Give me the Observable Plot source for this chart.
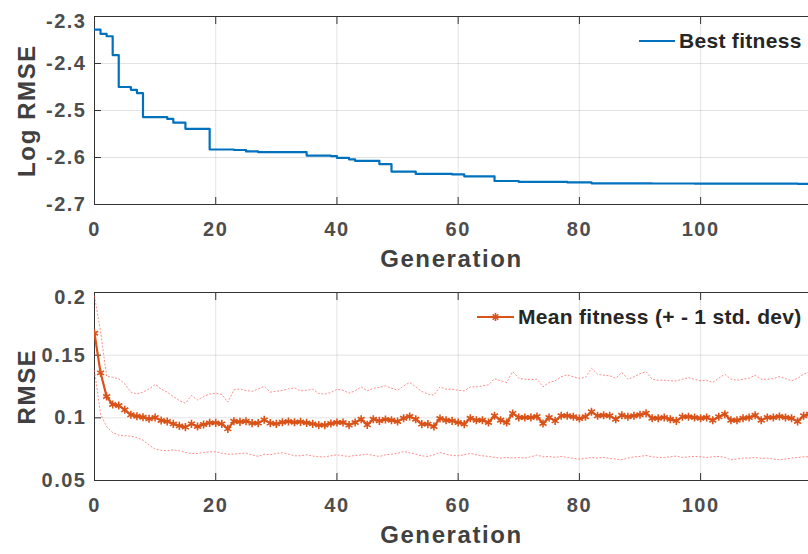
<!DOCTYPE html>
<html><head><meta charset="utf-8">
<script src="https://cdn.jsdelivr.net/npm/d3@7"></script>
<script src="https://cdn.jsdelivr.net/npm/@observablehq/plot@0.6"></script>
<style>
body{margin:0;background:#fff;}
#wrap{position:relative;width:808px;height:554px;overflow:hidden;font-family:"Liberation Sans",Arial,sans-serif;font-weight:bold;}
#wrap svg{display:block;}
g[aria-label="x-axis tick label"] text, g[aria-label="y-axis tick label"] text{letter-spacing:1.5px;}
g[aria-label="x-axis label"], g[aria-label="y-axis label"]{font-size:24px;letter-spacing:1.6px;fill:#404040;}
.legend{position:absolute;display:flex;align-items:center;font-size:21px;letter-spacing:0.3px;color:#262626;white-space:nowrap;}
.legend svg{margin-right:4px;}
</style>
</head><body>
<div id="wrap">
  <div id="top"></div>
  <div id="bot"></div>
  <div class="legend" id="leg1" style="left:639px;top:29px;"><svg width="36" height="10"><line x1="0" x2="36" y1="5" y2="5" stroke="#0072BD" stroke-width="2"/></svg><span>Best fitness</span></div>
  <div class="legend" id="leg2" style="left:477px;top:305px;"><svg width="37" height="12"><line x1="0" x2="37" y1="6" y2="6" stroke="#D95319" stroke-width="2"/><g stroke="#D95319" stroke-width="1.6" transform="translate(18.5,6)"><line x1="-4" x2="4" y1="0" y2="0"/><line x1="0" x2="0" y1="-4" y2="4"/><line x1="-2.8" x2="2.8" y1="-2.8" y2="2.8"/><line x1="-2.8" x2="2.8" y1="2.8" y2="-2.8"/></g></svg><span>Mean fitness (+ - 1 std. dev)</span></div>
</div>
<script>
// ---- data ----
const xTicks = [0, 20, 40, 60, 80, 100];
const topYTicks = [-2.7, -2.6, -2.5, -2.4, -2.3];
const botYTicks = [0.05, 0.1, 0.15, 0.2];

// Best fitness: generation at which value changes, and value (step-after)
const bestGen = [0,1,2,3,4,6,7,8,12,13,15,19,23,25,27,35,39,40,42,43,47,49,53,59,61,66,70,78,82,92,99,116,120];
const bestVal = [-2.328,-2.337,-2.342,-2.382,-2.450,-2.456,-2.463,-2.514,-2.518,-2.526,-2.539,-2.583,-2.584,-2.587,-2.5887,-2.596,-2.597,-2.601,-2.604,-2.607,-2.614,-2.630,-2.635,-2.636,-2.640,-2.650,-2.652,-2.653,-2.655,-2.6553,-2.6556,-2.656,-2.656];

const meanFit = [
0.1675,0.1359,0.1170,0.1106,0.1098,0.1064,0.1024,0.1013,0.1005,0.0992,
0.1003,0.0979,0.0971,0.0952,0.0936,0.0926,0.0952,0.0931,0.0947,0.0960,
0.0960,0.0952,0.0912,0.0973,0.0968,0.0973,0.0958,0.0958,0.0984,0.0958,
0.0952,0.0965,0.0971,0.0965,0.0968,0.0960,0.0952,0.0942,0.0942,0.0955,
0.0963,0.0963,0.0942,0.0963,0.0989,0.0944,0.0989,0.0976,0.0987,0.0981,
0.0971,0.0997,0.1011,0.0989,0.0950,0.0950,0.0931,0.0995,0.0981,0.0976,
0.0963,0.0950,0.0997,0.0981,0.0981,0.0963,0.1016,0.0981,0.0963,0.1035,
0.1003,0.1003,0.1003,0.1011,0.0955,0.1003,0.0976,0.1016,0.1016,0.1008,
0.0995,0.1008,0.1048,0.1016,0.1021,0.1016,0.0989,0.1021,0.1008,0.1016,
0.1024,0.1037,0.0997,0.0997,0.1003,0.0989,0.0976,0.1008,0.1008,0.1003,
0.0997,0.1003,0.0981,0.1008,0.1029,0.0981,0.0981,0.0997,0.1003,0.1021,
0.0981,0.1003,0.1003,0.1011,0.1003,0.0997,0.0971,0.1016,0.1029];

const upperFit = [
0.1970,0.1690,0.1330,0.1324,0.1311,0.1270,0.1205,0.1190,0.1205,0.1230,
0.1266,0.1230,0.1205,0.1170,0.1138,0.1117,0.1178,0.1143,0.1170,0.1190,
0.1197,0.1186,0.1125,0.1223,0.1230,0.1218,0.1212,0.1230,0.1250,0.1205,
0.1212,0.1218,0.1231,0.1239,0.1215,0.1220,0.1228,0.1194,0.1189,0.1202,
0.1228,0.1220,0.1197,0.1215,0.1247,0.1215,0.1236,0.1242,0.1255,0.1236,
0.1220,0.1255,0.1282,0.1247,0.1210,0.1189,0.1181,0.1247,0.1228,0.1228,
0.1220,0.1215,0.1247,0.1247,0.1255,0.1263,0.1313,0.1295,0.1282,0.1369,
0.1316,0.1308,0.1305,0.1308,0.1247,0.1282,0.1295,0.1327,0.1343,0.1327,
0.1316,0.1321,0.1396,0.1348,0.1340,0.1335,0.1316,0.1361,0.1308,0.1327,
0.1353,0.1369,0.1308,0.1300,0.1300,0.1295,0.1295,0.1308,0.1321,0.1308,
0.1295,0.1300,0.1282,0.1316,0.1348,0.1308,0.1300,0.1308,0.1316,0.1340,
0.1308,0.1308,0.1313,0.1329,0.1313,0.1295,0.1316,0.1348,0.1369];

const lowerFit = [
0.1377,0.1030,0.0930,0.0883,0.0862,0.0857,0.0854,0.0843,0.0822,0.0782,
0.0750,0.0742,0.0737,0.0745,0.0737,0.0724,0.0716,0.0716,0.0724,0.0729,
0.0729,0.0718,0.0710,0.0710,0.0716,0.0718,0.0705,0.0692,0.0710,0.0705,
0.0716,0.0721,0.0710,0.0697,0.0697,0.0705,0.0695,0.0689,0.0689,0.0697,
0.0705,0.0697,0.0692,0.0700,0.0703,0.0710,0.0700,0.0692,0.0705,0.0710,
0.0716,0.0732,0.0721,0.0710,0.0697,0.0692,0.0705,0.0724,0.0710,0.0700,
0.0697,0.0705,0.0716,0.0705,0.0697,0.0692,0.0684,0.0679,0.0684,0.0679,
0.0684,0.0679,0.0689,0.0703,0.0689,0.0692,0.0684,0.0692,0.0684,0.0676,
0.0671,0.0676,0.0684,0.0679,0.0684,0.0676,0.0671,0.0665,0.0679,0.0689,
0.0692,0.0700,0.0689,0.0684,0.0684,0.0689,0.0695,0.0684,0.0689,0.0692,
0.0689,0.0684,0.0689,0.0692,0.0684,0.0665,0.0671,0.0679,0.0679,0.0684,
0.0676,0.0679,0.0671,0.0665,0.0671,0.0679,0.0684,0.0689,0.0689];

const generations = meanFit.map((_, i) => i);

// ---- tables ----
const best = bestGen.map((g, i) => ({gen: g, val: bestVal[i]}));
const meanRows = generations.map(g => ({gen: g, mean: meanFit[g], upper: upperFit[g], lower: lowerFit[g]}));

const gridStyle = {stroke: "#262626", strokeOpacity: 0.13};
const axisColor = "#333333";
const fmt = d => String(d);

function frameMarks(yDom, yTicks, ylabel) {
  const topTick = yTicks.filter(t => t === yDom[1]);
  const otherTicks = yTicks.filter(t => t !== yDom[1]);
  return [
    Plot.gridX(xTicks, gridStyle),
    Plot.gridY(yTicks, gridStyle),
    Plot.axisX(xTicks, {tickSize: 0, tickPadding: 17, fontSize: 20, tickFormat: fmt, label: "Generation", labelAnchor: "center", labelArrow: "none", labelOffset: 62}),
    Plot.axisX(xTicks, {tickSize: -7, tickFormat: () => "", label: null, stroke: axisColor}),
    Plot.axisX(xTicks, {anchor: "top", tickSize: -7, tickFormat: () => "", label: null, stroke: axisColor}),
    Plot.axisY(otherTicks, {tickSize: 0, tickPadding: 8, fontSize: 20, tickFormat: fmt, label: ylabel, labelAnchor: "center", labelArrow: "none", labelOffset: 77}),
    Plot.axisY(topTick, {tickSize: 0, tickPadding: 8, fontSize: 20, tickFormat: fmt, label: null, dy: 5}),
    Plot.axisY(yTicks, {tickSize: -7, tickFormat: () => "", label: null, stroke: axisColor}),
    Plot.ruleX([0], {stroke: axisColor}),
    Plot.ruleY([yDom[0]], {stroke: axisColor}),
    Plot.ruleY([yDom[1]], {stroke: axisColor})
  ];
}

const common = {
  width: 808, height: 277, marginLeft: 94, marginRight: 0,
  style: {fontFamily: '"Liberation Sans", Arial, sans-serif', fontWeight: "bold", color: "#4d4d4d", background: "white", overflow: "visible"},
  x: {domain: [0, 117.8]}
};

const topChart = Plot.plot({
  ...common,
  marginTop: 16, marginBottom: 73,
  y: {domain: [-2.7, -2.3]},
  marks: [
    ...frameMarks([-2.7, -2.3], topYTicks, "Log RMSE"),
    Plot.line(best, {x: "gen", y: "val", curve: "step-after", stroke: "#0072BD", strokeWidth: 2.2, clip: true})
  ]
});

const botChart = Plot.plot({
  ...common,
  marginTop: 15, marginBottom: 74,
  y: {domain: [0.05, 0.2]},
  marks: [
    ...frameMarks([0.05, 0.2], botYTicks, "RMSE"),
    Plot.line(meanRows, {x: "gen", y: "upper", stroke: "#ff5c5c", strokeWidth: 1, strokeDasharray: "1.2,2.4", strokeOpacity: 0.7, clip: true}),
    Plot.line(meanRows, {x: "gen", y: "lower", stroke: "#ff5c5c", strokeWidth: 1, strokeDasharray: "1.2,2.4", strokeOpacity: 0.7, clip: true}),
    Plot.line(meanRows, {x: "gen", y: "mean", stroke: "#D95319", strokeWidth: 2.2, clip: true}),
    Plot.dot(meanRows, {x: "gen", y: "mean", symbol: "asterisk", r: 3.8, stroke: "#D95319", strokeWidth: 1.6, clip: true})
  ]
});

document.getElementById("top").append(topChart);
document.getElementById("bot").append(botChart);
</script>
</body></html>
